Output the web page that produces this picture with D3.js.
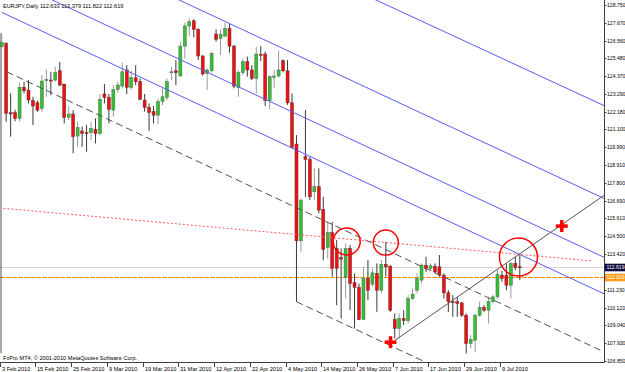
<!DOCTYPE html>
<html>
<head>
<meta charset="utf-8">
<script src="https://cdn.jsdelivr.net/npm/d3@7"></script>
<style>
  html, body { margin: 0; padding: 0; background: #fff; }
  svg { display: block; }
  text { font-family: "Liberation Sans", Arial, sans-serif; font-size: 5.6px; fill: #000; }
  .axis-y text { font-size: 5.1px; }
</style>
</head>
<body>
<svg id="chart" width="625" height="372"></svg>
<script>
// EURJPY daily, bar 0 = 3 Feb 2010 ... bar 116 = 15 Jul 2010
const opens = [126.18,126.39,122.12,122.12,121.77,123.68,123.51,122.86,122.73,122.38,
  124.13,124.13,124.13,124.70,123.88,121.83,122.04,120.68,120.99,120.89,
  120.89,121.09,120.84,123.27,123.06,122.28,123.55,123.76,124.75,123.68,
  124.27,124.03,122.90,122.45,122.18,121.97,122.80,123.06,124.58,124.70,
  124.38,126.22,127.46,127.78,127.25,125.61,124.54,124.70,126.96,126.70,
  126.84,127.31,126.22,123.68,124.58,125.26,124.75,124.23,125.70,125.73,
  122.86,124.29,124.38,125.32,124.70,122.73,120.19,114.23,119.41,119.24,
  117.25,117.56,116.16,113.82,114.73,113.76,113.20,111.97,113.76,111.65,
  111.36,109.39,111.91,111.56,112.22,111.19,112.78,112.67,109.39,108.83,
  109.45,109.31,110.68,111.19,111.81,112.73,112.53,112.67,112.63,112.12,
  111.03,110.48,110.48,110.41,109.65,107.91,108.11,109.65,110.13,109.96,
  110.48,110.78,112.12,112.12,111.50,112.84,112.633]
const highs = [126.90,126.45,123.31,122.30,123.97,124.03,124.13,123.10,122.86,124.44,
  124.79,124.64,124.95,125.24,123.90,122.53,122.28,121.56,121.26,121.36,
  121.56,121.77,123.27,123.88,123.27,123.82,124.03,125.20,125.05,124.70,
  125.05,124.23,123.27,122.69,122.53,123.00,123.62,124.23,124.95,125.36,
  126.49,127.66,127.93,127.87,127.31,125.67,124.85,125.88,127.25,127.25,
  127.66,127.62,126.29,124.75,125.46,125.57,125.05,126.18,126.22,125.88,
  124.44,124.75,125.94,125.40,125.36,123.31,120.74,116.84,122.28,119.41,
  118.69,118.69,116.94,115.40,115.40,114.27,113.76,114.07,113.97,112.22,
  111.60,112.63,113.04,112.53,112.84,113.04,114.17,112.73,109.76,109.76,
  109.96,110.89,111.30,112.22,112.84,113.25,112.84,112.84,113.35,112.22,
  111.19,110.89,110.78,110.48,109.76,108.42,109.76,110.48,110.27,110.78,
  110.89,112.43,112.38,112.84,112.94,113.25,113.379]
const lows = [126.10,121.56,120.64,121.60,121.56,123.30,122.69,121.36,122.18,122.18,
  123.10,123.20,124.03,123.76,121.46,121.67,119.61,120.02,120.02,119.71,
  120.43,120.23,120.74,122.69,121.46,121.87,123.35,123.62,123.27,123.51,
  123.82,122.90,122.18,121.01,121.46,121.42,122.59,122.90,124.13,123.82,
  124.34,125.46,126.80,126.76,125.36,124.40,123.51,124.58,126.50,125.67,
  126.76,125.81,123.62,123.10,124.44,124.34,124.13,123.31,125.30,122.53,
  122.32,123.62,124.29,124.60,122.60,119.92,110.48,113.55,116.94,116.74,
  116.74,115.92,113.04,113.14,112.02,110.27,109.45,110.68,109.96,108.83,
  109.35,109.35,110.58,111.40,109.86,110.99,112.02,109.86,108.22,108.22,
  109.04,109.14,110.58,110.99,111.60,112.32,112.43,112.22,112.02,110.68,
  109.86,109.55,109.55,109.55,107.29,107.60,107.39,109.55,109.86,109.14,
  110.37,110.68,111.71,111.19,110.68,112.43,111.822]
const closes = [126.43,122.08,122.04,121.77,123.68,123.47,122.90,122.53,122.28,124.07,
  124.15,124.10,124.58,123.82,121.83,122.04,120.64,121.21,120.84,120.87,
  121.15,120.84,122.94,123.06,122.32,123.55,123.82,124.64,123.68,124.29,
  124.03,122.94,122.45,122.12,121.97,122.80,123.10,124.03,124.64,124.58,
  126.22,127.46,127.72,127.25,125.61,124.50,124.75,125.77,126.63,126.92,
  127.31,126.22,123.76,124.58,125.26,124.75,124.23,125.73,125.68,122.86,
  124.34,124.38,124.75,124.70,122.73,119.98,114.23,116.74,119.24,116.94,
  117.56,116.12,113.70,114.73,112.53,112.53,113.10,113.76,111.60,111.36,
  109.39,111.91,111.19,112.26,111.19,112.78,112.63,109.96,108.83,109.45,
  109.31,110.68,110.95,111.91,112.73,112.53,112.69,112.32,112.12,111.03,
  110.48,110.46,110.37,109.65,107.91,108.16,109.65,110.13,109.96,110.48,
  110.78,112.18,111.91,111.50,112.84,112.59,112.619]

const dateBars = [0, 8, 16, 24, 32, 40, 48, 56, 64, 72, 80, 88, 96, 104, 112]
const dateLabels = ["3 Feb 2010", "15 Feb 2010", "25 Feb 2010", "9 Mar 2010", "19 Mar 2010",
  "31 Mar 2010", "12 Apr 2010", "22 Apr 2010", "4 May 2010", "14 May 2010", "26 May 2010",
  "7 Jun 2010", "17 Jun 2010", "29 Jun 2010", "9 Jul 2010"]
const priceTicks = [128.750, 127.670, 126.560, 125.480, 124.370, 123.290, 122.180, 121.100,
  119.990, 118.910, 117.800, 116.690, 115.610, 114.500, 113.420, 111.230, 110.120, 109.040,
  107.930, 106.850]

const bidPrice = 112.619
const orangeLevel = 112.0
const orangeLabel = "112.009"

// drawn objects, as [bar, price] end points
const blueLines = [
  [[0, 128.30], [136, 110.82]],
  [[0, 130.51], [136, 113.07]],
  [[0, 134.16], [136, 116.69]],
  [[0, 139.73], [136, 122.41]]
]
const dashedLines = [
  [[1.1, 124.64], [134, 107.50]],
  [[66, 110.48], [100, 106.11]]
]
const redDotted = [[0.4, 116.23], [131.9, 113.00]]
const grayRay = [[88.07, 108.11], [140, 118.01]]
const circleCenters = [[77.25, 114.19], [86.0, 114.12], [115.7, 113.23]]
const crossPoints = [[87.06, 107.99], [125.4, 115.14]]

const circleRadii = [13.5, 12.5, 19]

const svg = d3.select("#chart")
const plotR = 604, plotB = 362

const x = d3.scaleLinear().domain([0, 116]).range([1.7, 519.8])
const y = d3.scaleLinear().domain([106.85, 128.75]).range([360.7, 5])

const bars = opens.map((o, i) => ({ i, o, h: highs[i], l: lows[i], c: closes[i] }))

svg.append("defs").append("clipPath").attr("id", "plot")
    .append("rect").attr("x", 0).attr("y", 0).attr("width", plotR).attr("height", plotB)

const plot = svg.append("g").attr("clip-path", "url(#plot)")

// horizontal price lines
plot.append("line")
    .attr("x1", 0).attr("x2", plotR)
    .attr("y1", Math.round(y(bidPrice)) + 0.5).attr("y2", Math.round(y(bidPrice)) + 0.5)
    .attr("stroke", "#ddd6ce").attr("stroke-width", 1)
    .attr("shape-rendering", "crispEdges")
plot.append("line")
    .attr("x1", 0).attr("x2", plotR)
    .attr("y1", Math.round(y(orangeLevel)) + 0.5).attr("y2", Math.round(y(orangeLevel)) + 0.5)
    .attr("stroke", "#ff8c00").attr("stroke-width", 1).attr("stroke-dasharray", "5,1")
    .attr("shape-rendering", "crispEdges")

// left edge line
plot.append("line")
    .attr("x1", 1).attr("x2", 1).attr("y1", 33).attr("y2", 353)
    .attr("stroke", "#505050").attr("stroke-width", 1)

// candles
const candle = plot.append("g").selectAll("g").data(bars).join("g")
candle.append("line")
    .attr("x1", d => x(d.i)).attr("x2", d => x(d.i))
    .attr("y1", d => y(d.h)).attr("y2", d => y(d.l))
    .attr("stroke", d => d.c >= d.o ? "#9a9a9a" : "#3a3a3a")
    .attr("stroke-width", 1)
candle.append("rect")
    .attr("x", d => x(d.i) - 1.5)
    .attr("width", 3)
    .attr("y", d => y(Math.max(d.o, d.c)))
    .attr("height", d => Math.max(1, Math.abs(y(d.o) - y(d.c))))
    .attr("fill", d => d.c >= d.o ? "#33c033" : "#ee1010")
    .attr("stroke", d => d.c >= d.o ? "#4a6a4a" : "#6a2a2a")
    .attr("stroke-width", 0.5)

const line = d3.line().x(p => x(p[0])).y(p => y(p[1]))

plot.selectAll(".blue").data(blueLines).join("path")
    .attr("d", line).attr("fill", "none")
    .attr("stroke", "#5a5af5").attr("stroke-width", 1)

plot.selectAll(".dash").data(dashedLines).join("path")
    .attr("d", line).attr("fill", "none")
    .attr("stroke", "#505050").attr("stroke-width", 1)
    .attr("stroke-dasharray", "7,4")

plot.append("path").attr("d", line(redDotted)).attr("fill", "none")
    .attr("stroke", "#ff5a5a").attr("stroke-width", 1).attr("stroke-dasharray", "2,2")

plot.append("path").attr("d", line(grayRay)).attr("fill", "none")
    .attr("stroke", "#555").attr("stroke-width", 1)

plot.selectAll(".circ").data(circleCenters).join("circle")
    .attr("cx", p => x(p[0])).attr("cy", p => y(p[1]))
    .attr("r", (p, k) => circleRadii[k])
    .attr("fill", "none").attr("stroke", "#ff0000").attr("stroke-width", 1.5)

const cross = plot.selectAll(".cross").data(crossPoints).join("g")
    .attr("transform", p => `translate(${x(p[0])},${y(p[1])})`)
cross.append("line").attr("x1", -6).attr("x2", 6).attr("y1", 0).attr("y2", 0)
    .attr("stroke", "#ff0000").attr("stroke-width", 3.5)
cross.append("line").attr("x1", 0).attr("x2", 0).attr("y1", -6).attr("y2", 6)
    .attr("stroke", "#ff0000").attr("stroke-width", 3.5)

// frame
svg.append("line").attr("x1", plotR + 0.5).attr("x2", plotR + 0.5).attr("y1", 0).attr("y2", plotB + 0.5)
    .attr("stroke", "#404040")
svg.append("line").attr("x1", 0).attr("x2", plotR + 0.5).attr("y1", plotB + 0.5).attr("y2", plotB + 0.5)
    .attr("stroke", "#404040")

// price axis
const yAxis = svg.append("g").attr("class", "axis-y")
const pt = yAxis.selectAll("g").data(priceTicks).join("g")
    .attr("transform", v => `translate(${plotR},${Math.round(y(v)) + 0.5})`)
pt.append("line").attr("x1", 0).attr("x2", 2.5).attr("stroke", "#404040")
pt.append("text").attr("x", 3).attr("dy", "0.35em").text(v => v.toFixed(3))

// price boxes
const boxes = [
  { v: bidPrice, label: bidPrice.toFixed(3), fill: "#0a0a3c" },
  { v: orangeLevel, label: orangeLabel, fill: "#ff9a1a" }
]
const bx = yAxis.append("g").selectAll("g").data(boxes).join("g")
    .attr("transform", b => `translate(${plotR + 1},${Math.round(y(b.v)) + 0.5})`)
bx.append("rect").attr("x", 0).attr("y", -3.8).attr("width", 20).attr("height", 7.6)
    .attr("fill", b => b.fill)
bx.append("text").attr("x", 1.5).attr("dy", "0.35em").style("fill", "#fff").text(b => b.label)

// time axis
const dt = svg.append("g").selectAll("g").data(dateBars).join("g")
    .attr("transform", b => `translate(${Math.round(x(b)) - 1.5},${plotB})`)
dt.append("line").attr("y1", 0).attr("y2", 5).attr("stroke", "#404040")
dt.append("text").attr("x", 1.5).attr("y", 8.6).text((b, k) => dateLabels[k])

// captions
svg.append("text").attr("x", 3).attr("y", 8.2).text("EURJPY,Daily 112.633 113.379 111.822 112.619")
svg.append("text").attr("x", 3).attr("y", 360).text("FxPro MT4, \u00a9 2001-2010 MetaQuotes Software Corp.")
</script>
</body>
</html>
